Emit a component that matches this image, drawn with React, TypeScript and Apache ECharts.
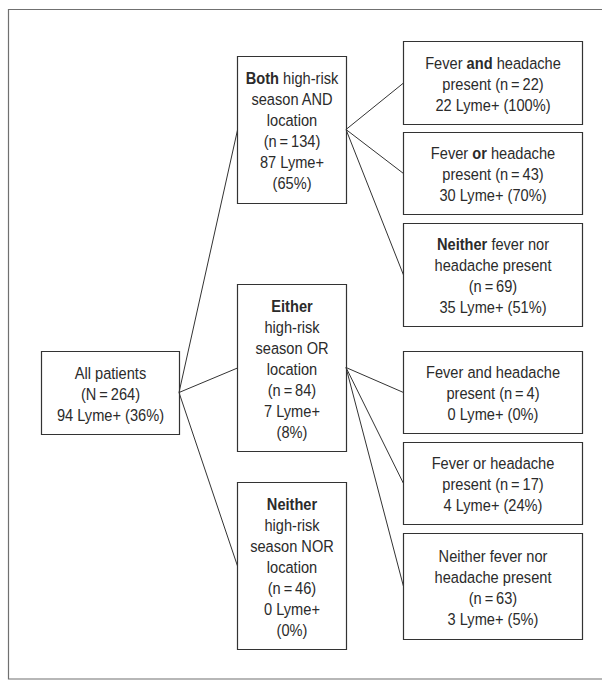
import React, { useEffect, useRef } from "react";
import * as echarts from "echarts";

// ---- Data ----
const nodeIds = ["all", "both", "either", "neither", "b1", "b2", "b3", "e1", "e2", "e3"];
const nodeParent = [-1, 0, 0, 0, 1, 1, 1, 2, 2, 2];
const nodeN = [264, 134, 84, 46, 22, 43, 69, 4, 17, 63];
const nodeLymePos = [94, 87, 7, 0, 22, 30, 35, 0, 4, 3];
const nodePct = [36, 65, 8, 0, 100, 70, 51, 0, 24, 5];
const NSEP = "\u2009=\u2009";
const nodeText = (i: number): string => {
  const n = nodeN[i], l = nodeLymePos[i], p = nodePct[i];
  switch (nodeIds[i]) {
    case "all": return `All patients\n(N${NSEP}${n})\n${l} Lyme+ (${p}%)`;
    case "both": return `{b|Both} high-risk\nseason AND\nlocation\n(n${NSEP}${n})\n${l} Lyme+\n(${p}%)`;
    case "either": return `{b|Either}\nhigh-risk\nseason OR\nlocation\n(n${NSEP}${n})\n${l} Lyme+\n(${p}%)`;
    case "neither": return `{b|Neither}\nhigh-risk\nseason NOR\nlocation\n(n${NSEP}${n})\n${l} Lyme+\n(${p}%)`;
    case "b1": return `Fever {b|and} headache\npresent (n${NSEP}${n})\n${l} Lyme+ (${p}%)`;
    case "b2": return `Fever {b|or} headache\npresent (n${NSEP}${n})\n${l} Lyme+ (${p}%)`;
    case "b3": return `{b|Neither} fever nor\nheadache present\n(n${NSEP}${n})\n${l} Lyme+ (${p}%)`;
    case "e1": return `Fever and headache\npresent (n${NSEP}${n})\n${l} Lyme+ (${p}%)`;
    case "e2": return `Fever or headache\npresent (n${NSEP}${n})\n${l} Lyme+ (${p}%)`;
    default: return `Neither fever nor\nheadache present\n(n${NSEP}${n})\n${l} Lyme+ (${p}%)`;
  }
};

// ---- Layout (diagram geometry, in axis units) ----
const nodeCol = [0, 1, 1, 1, 2, 2, 2, 2, 2, 2];
const colLeft = [41, 237, 403];
const colWidth = [138, 109, 179];
const nodeTop = [351, 56, 284, 482, 41, 132, 223, 351, 442, 533];
const nodeBottom = [434, 203, 451, 649, 124, 214, 326, 433, 524, 639];

const FONT = "'Liberation Sans', Arial, sans-serif";
const TEXT_COLOR = "#2b2b2b";
const LINE_COLOR = "#333333";

export default function App() {
  const ref = useRef<HTMLDivElement>(null);
  useEffect(() => {
    document.body.style.margin = "0";
    if (!ref.current) return;
    const chart = echarts.init(ref.current, undefined, { renderer: "svg" });
    const option: any = {
      animation: false,
      backgroundColor: "#ffffff",
      grid: { left: 0, right: 0, top: 0, bottom: 0 },
      xAxis: { type: "value", min: 0, max: 602, show: false },
      yAxis: { type: "value", min: 0, max: 681, inverse: true, show: false },
      graphic: [
        {
          type: "rect",
          shape: { x: 8.5, y: 9.5, width: 700, height: 669.5 },
          style: { fill: "none", stroke: "#707070", lineWidth: 1.2 },
          silent: true,
        },
      ],
      series: [
        {
          type: "custom",
          coordinateSystem: "cartesian2d",
          data: nodeIds.map((_, i) => [i]),
          renderItem: (params: any, api: any) => {
            const i = api.value(0);
            const col = nodeCol[i];
            const p1 = api.coord([colLeft[col], nodeTop[i]]);
            const p2 = api.coord([colLeft[col] + colWidth[col], nodeBottom[i]]);
            const x1 = Math.round(p1[0]) + 0.5, y1 = Math.round(p1[1]) + 0.5;
            const x2 = Math.round(p2[0]) + 0.5, y2 = Math.round(p2[1]) + 0.5;
            const children: any[] = [];
            const par = nodeParent[i];
            if (par >= 0) {
              const pc = nodeCol[par];
              const q1 = api.coord([colLeft[pc] + colWidth[pc], (nodeTop[par] + nodeBottom[par]) / 2]);
              children.push({
                type: "line",
                shape: { x1: q1[0], y1: q1[1], x2: x1, y2: (y1 + y2) / 2 },
                style: { stroke: LINE_COLOR, lineWidth: 1 },
              });
            }
            children.push({
              type: "rect",
              shape: { x: x1, y: y1, width: x2 - x1, height: y2 - y1 },
              style: { fill: "#ffffff", stroke: LINE_COLOR, lineWidth: 1.2 },
            });
            children.push({
              type: "text",
              x: (x1 + x2) / 2,
              y: (y1 + y2) / 2 + 1,
              scaleX: 0.86,
              style: {
                text: nodeText(i),
                x: 0,
                y: 0,
                align: "center",
                verticalAlign: "middle",
                textAlign: "center",
                textVerticalAlign: "middle",
                fontFamily: FONT,
                fontSize: 17,
                lineHeight: 21,
                fill: TEXT_COLOR,
                rich: {
                  b: { fontFamily: FONT, fontSize: 17, lineHeight: 21, fontWeight: "bold", fill: TEXT_COLOR },
                },
              },
            });
            return { type: "group", children };
          },
        },
      ],
    };
    chart.setOption(option);
    return () => chart.dispose();
  }, []);
  return <div ref={ref} style={{ width: 602, height: 681 }} />;
}
